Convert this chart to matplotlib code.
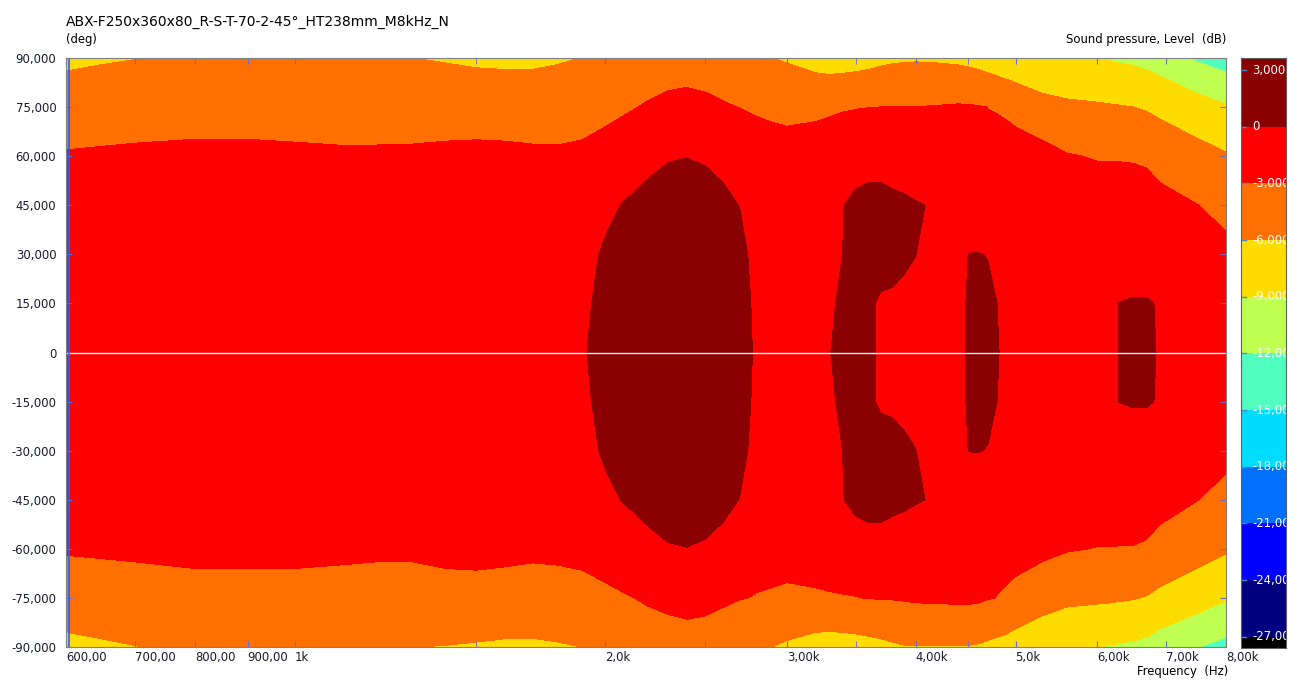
import matplotlib.pyplot as plt
import numpy as np

# measured directivity, sound pressure level (dB) per angle row
freq_hz = [600, 650, 700, 800, 900, 1000, 1100, 1200, 1300, 1400,
           1500, 1600, 1700, 1800, 1900, 2000, 2100, 2200, 2300, 2400,
           2500, 2600, 2700, 2800, 2900, 3000, 3200, 3300, 3400, 3500,
           3600, 3700, 3800, 3900, 4000, 4100, 4200, 4400, 4500, 4600,
           4700, 4800, 4900, 5000, 5300, 5600, 6000, 6200, 6300, 6500,
           6700, 6900, 7500, 8000]

spl_0 = [-0.8, -0.8, -0.8, -0.8, -0.8, -0.8, -0.8, -0.8, -0.8, -0.8,
         -0.8, -0.8, -0.8, -0.8, -0.6, 2.4, 2.5, 2.6, 2.6, 2.6,
         2.5, 2.4, 2.2, -0.6, -0.8, -0.8, -0.7, -0.1, 0.9, 0.9,
         0.6, -0.4, -0.8, -1.0, -1.0, -1.0, -0.9, -0.6, 0.3, 0.5,
         0.5, 0.1, -0.4, -0.8, -1.0, -1.0, -0.9, -0.6, 0.05, 0.6,
         0.5, -0.2, -0.8, -1.0]
# +/-15 deg
spl_15 = [-0.9, -0.9, -0.9, -0.9, -0.9, -0.9, -0.9, -0.9, -0.9, -0.9,
          -0.9, -0.9, -0.9, -0.9, -0.8, 1.2, 2.0, 2.2, 2.3, 2.3,
          2.2, 2.1, 2.0, -0.9, -0.9, -0.9, -0.8, -0.5, 0.6, 0.8,
          0.3, -0.25, -0.3, -0.6, -1.0, -1.0, -1.0, -0.6, 0.2, 0.5,
          0.45, -0.01, -0.6, -0.9, -1.0, -1.0, -1.0, -0.8, 0.03, 0.25,
          0.25, -0.2, -1.0, -1.3]
# +/-30 deg
spl_30 = [-1.0, -1.0, -1.0, -1.0, -1.0, -1.0, -1.0, -1.0, -1.0, -1.0,
          -1.0, -1.0, -1.0, -1.0, -1.0, 0.4, 1.5, 1.8, 2.0, 2.0,
          1.8, 1.5, 1.0, -1.0, -1.0, -1.0, -0.9, -0.8, 0.02, 0.8,
          0.9, 0.8, 0.6, 0.4, 0.05, -0.9, -1.0, -1.0, 0.02, 0.06,
          -0.06, -0.8, -1.0, -1.1, -1.2, -1.3, -1.4, -1.5, -1.6, -1.7,
          -1.8, -1.9, -1.9, -2.2]
# +/-45 deg
spl_45 = [-1.3, -1.3, -1.3, -1.3, -1.3, -1.3, -1.3, -1.3, -1.3, -1.3,
          -1.3, -1.3, -1.3, -1.3, -1.3, -0.7, 0.3, 0.9, 1.4, 1.4,
          1.1, 0.8, -0.05, -1.3, -1.3, -1.3, -1.2, -1.0, -0.1, 0.9,
          1.1, 1.1, 0.9, 0.6, 0.3, -0.05, -1.0, -1.3, -1.3, -1.3,
          -1.3, -1.3, -1.4, -1.4, -1.5, -1.5, -1.5, -1.6, -1.6, -1.7,
          -1.8, -2.0, -2.95, -3.9]
# upper side
spl_up60 = [-2.7, -2.7, -2.7, -2.7, -2.7, -2.7, -2.7, -2.7, -2.7, -2.7,
            -2.7, -2.7, -2.7, -2.7, -2.7, -2.0, -1.95, -0.79, -0.215, -0.05,
            -0.275, -0.91, -1.5, -2.2, -2.5, -2.5, -2.5, -2.4, -2.3, -1.8,
            -1.26, -1.26, -1.8, -1.97, -2.7, -2.5, -2.5, -2.3, -2.3, -2.4,
            -2.5, -2.5, -2.55, -2.6, -2.0, -2.82, -3.17, -3.17, -3.18, -3.22,
            -3.375, -4.17, -5.0, -5.75]
spl_up75 = [-5.07, -4.2, -3.83, -3.57, -3.57, -3.75, -4.02, -4.02, -3.92, -3.68,
            -3.6, -3.68, -3.92, -4.02, -3.6, -3.67, -3.16, -2.85, -2.6, -2.5,
            -2.6, -2.85, -3.03, -3.18, -3.22, -3.32, -3.21, -3.15, -3.08, -3.06,
            -3.02, -2.99, -2.99, -2.99, -2.99, -2.93, -2.88, -2.75, -2.79, -2.86,
            -3.02, -3.08, -3.16, -3.27, -5.0, -5.47, -5.67, -5.79, -5.86, -5.99,
            -6.24, -6.59, -7.73, -8.73]
spl_up90 = [-6.34, -6.28, -6.07, -5.4, -5.4, -5.5, -5.7, -5.8, -5.98, -6.26,
            -6.6, -6.71, -6.63, -6.3, -5.95, -5.4, -4.6, -3.98, -3.8, -3.75,
            -3.9, -3.98, -4.8, -5.6, -5.98, -6.3, -7.2, -7.43, -7.33, -7.14,
            -6.91, -6.6, -6.39, -6.31, -6.26, -6.29, -6.35, -6.53, -6.7, -6.95,
            -7.28, -7.69, -8.17, -8.73, -8.5, -8.64, -8.95, -9.23, -9.35, -9.54,
            -9.875, -10.41, -12.35, -13.33]
# lower side
spl_dn60 = [-2.7, -2.7, -2.7, -2.7, -2.7, -2.7, -2.7, -2.7, -2.7, -2.7,
            -2.7, -2.7, -2.7, -2.7, -2.7, -2.0, -1.95, -0.79, -0.215, -0.05,
            -0.275, -0.91, -1.5, -2.2, -2.5, -2.5, -2.5, -2.4, -2.3, -1.8,
            -1.26, -1.26, -1.8, -1.97, -2.7, -2.5, -2.5, -2.3, -2.3, -2.4,
            -2.5, -2.5, -2.55, -2.6, -2.29, -2.83, -3.07, -3.07, -3.09, -3.09,
            -3.28, -3.97, -4.92, -5.68]
spl_dn75 = [-4.95, -4.2, -3.83, -3.45, -3.45, -3.45, -3.6, -3.83, -3.83, -3.45,
            -3.39, -3.52, -3.75, -3.6, -3.39, -3.46, -3.08, -2.85, -2.6, -2.5,
            -2.6, -2.85, -2.9, -3.09, -3.13, -3.23, -3.13, -3.09, -3.06, -3.04,
            -2.95, -2.875, -2.86, -2.78, -2.66, -2.63, -2.6, -2.52, -2.52, -2.61,
            -2.88, -3.04, -3.16, -3.31, -4.94, -5.33, -5.58, -5.66, -5.74, -5.87,
            -6.12, -6.59, -7.67, -8.78]
spl_dn90 = [-6.45, -6.36, -6.07, -5.4, -5.4, -5.5, -5.6, -5.8, -5.98, -6.09,
            -6.29, -6.5, -6.49, -6.27, -5.98, -5.4, -4.6, -3.75, -3.8, -3.65,
            -3.69, -3.6, -5.4, -5.6, -5.98, -6.43, -7.23, -7.33, -7.26, -7.08,
            -6.86, -6.625, -6.35, -6.11, -6.07, -6.09, -6.12, -6.12, -6.12, -6.24,
            -6.48, -6.74, -7.03, -7.56, -7.8, -8.87, -8.95, -9.17, -9.24, -9.43,
            -9.72, -10.41, -11.9, -12.82]

angles_deg = [-90, -75, -60, -45, -30, -15, 0, 15, 30, 45, 60, 75, 90]

levels = [-27.6, -27, -24, -21, -18, -15, -12, -9, -6, -3, 0, 3, 3.64]
band_colors = ['#000000', '#000080', '#0000ff', '#0070ff', '#00dcff', '#50ffc0',
               '#bfff50', '#ffdc00', '#ff7000', '#ff0000', '#8b0000', '#8b0000']
cbar_ticks = [3, 0, -3, -6, -9, -12, -15, -18, -21, -24, -27]

x_ticks = [600, 700, 800, 900, 1000, 2000, 3000, 4000, 5000, 6000, 7000, 8000]
x_labels = ['600,00', '700,00', '800,00', '900,00', '1k', '2,0k', '3,00k',
            '4,00k', '5,0k', '6,00k', '7,00k', '8,00k']
x_minor = [1500, 2500, 3500, 4500]
y_ticks = [-90, -75, -60, -45, -30, -15, 0, 15, 30, 45, 60, 75, 90]


def num_fmt(v):
    if v == 0:
        return '0'
    return '{:.3f}'.format(v).replace('.', ',')


Z = np.array([spl_dn90, spl_dn75, spl_dn60, spl_45, spl_30, spl_15, spl_0,
              spl_15, spl_30, spl_45, spl_up60, spl_up75, spl_up90])

fig = plt.figure(figsize=(13, 6.84), dpi=100)
ax = fig.add_axes([66 / 1300, 1 - 647 / 684, 1160 / 1300, 589 / 684])
ax.contourf(freq_hz, angles_deg, Z, levels=levels, colors=band_colors)
ax.set_xscale('log')
ax.set_xlim(600, 8000)
ax.set_ylim(-90, 90)

ax.axhline(0, color='#e4f6ff', lw=1)
ax.axvline(604, color='#2a5cff', lw=1.2)

ax.set_xticks(x_ticks, x_labels)
ax.set_xticks(x_minor, [''] * len(x_minor), minor=True)
for lab in ax.get_xticklabels():
    lab.set_horizontalalignment('left')
ax.set_yticks(y_ticks, [num_fmt(v) for v in y_ticks])
ax.tick_params(which='both', direction='in', length=4, top=True, right=True,
               color='#6a6ad0', labelsize=8.4, labelcolor='#1a1a30')
ax.tick_params(axis='x', pad=3)
ax.tick_params(axis='y', pad=7)
for s in ax.spines.values():
    s.set_color('#808080')

fig.text(66 / 1300, 1 - 22 / 684, 'ABX-F250x360x80_R-S-T-70-2-45°_HT238mm_M8kHz_N',
         fontsize=10, va='center', ha='left')
fig.text(66 / 1300, 1 - 40 / 684, '(deg)', fontsize=8.4, va='center', ha='left')
fig.text(1226 / 1300, 1 - 40 / 684, 'Sound pressure, Level  (dB)', fontsize=8.4,
         va='center', ha='right')
fig.text(1228 / 1300, 1 - 672 / 684, 'Frequency  (Hz)', fontsize=8.4,
         va='center', ha='right')

# colour scale
cax = fig.add_axes([1241 / 1300, 1 - 648 / 684, 45 / 1300, 590 / 684])
for lo, hi, c in zip(levels[:-1], levels[1:], band_colors):
    cax.axhspan(lo, hi, color=c, lw=0)
cax.set_ylim(levels[0], levels[-1])
cax.set_xlim(0, 1)
cax.set_xticks([])
cax.set_yticks([])
for v in cbar_ticks:
    cax.plot([0, 0.12], [v, v], color='#4a8ad0', lw=1)
    cax.text(0.245, v, num_fmt(v), color='white', fontsize=8.4, va='center',
             ha='left', clip_on=True)
for s in cax.spines.values():
    s.set_color('#606060')

fig.savefig('out.png', dpi=100)
